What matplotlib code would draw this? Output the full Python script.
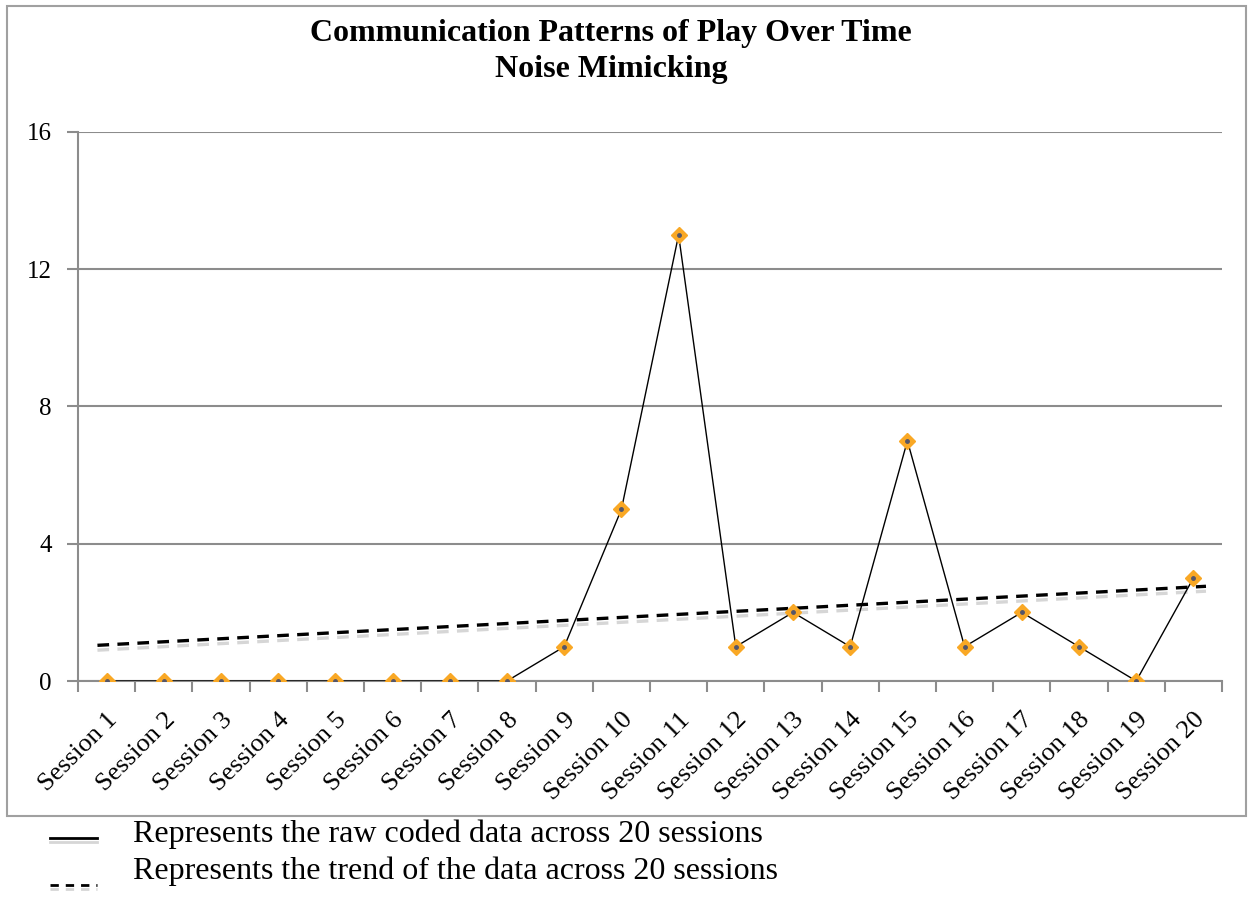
import matplotlib.pyplot as plt
import matplotlib.patheffects as pe
from matplotlib.lines import Line2D
from matplotlib.patches import Rectangle

sessions = ['Session %d' % i for i in range(1, 21)]
counts = [0, 0, 0, 0, 0, 0, 0, 0, 1, 5, 13, 1, 2, 1, 7, 1, 2, 1, 0, 3]
# trend line (start / end)
trend_x = [-0.16, 19.22]
trend_y = [1.04, 2.76]
y_ticks = [0, 4, 8, 12, 16]

plt.rcParams['font.family'] = ['Liberation Serif', 'DejaVu Serif']

fig = plt.figure(figsize=(12.48, 8.97), dpi=100)
W, H = 1248, 897
ax = fig.add_axes([78 / W, 1 - 681 / H, (1222 - 78) / W, (681 - 132) / H])

grid_c = '#8c8c8c'
x = list(range(len(sessions)))

shadow = [pe.SimpleLineShadow(offset=(0, -3.5), shadow_color='#8a8a8a', alpha=0.35), pe.Normal()]
ax.plot(trend_x, trend_y, color='black', lw=2.4, ls=(0, (3.5, 2.5)), zorder=3, path_effects=shadow)
ax.plot(x, counts, color='black', lw=1, zorder=4)
ax.plot(x, counts, ls='none', marker='D', ms=8, mfc='#F9A825', mec='#F9A825', zorder=5)
ax.plot(x, counts, ls='none', marker='o', ms=2.5, mfc='#55566a', mec='#55566a', zorder=6)

ax.set_xlim(-0.5, len(sessions) - 0.5)
ax.set_ylim(0, 16)
ax.set_yticks(y_ticks)
ax.set_yticklabels([str(v) for v in y_ticks], fontsize=18)
ax.yaxis.grid(True, color=grid_c, lw=1.5)
ax.set_axisbelow(True)

ax.set_xticks([i - 0.5 for i in range(len(sessions) + 1)])
ax.set_xticklabels([])
ax.set_xticks(x, minor=True)
ax.set_xticklabels(sessions, minor=True, rotation=45, ha='right', va='top',
                   rotation_mode='anchor', fontsize=19)
ax.tick_params(axis='x', which='minor', length=0, pad=20)
ax.tick_params(axis='x', which='major', length=8, width=1.5, color=grid_c, direction='out')
ax.tick_params(axis='y', length=8, width=1.5, color=grid_c, direction='out', pad=11)

for s in ['top', 'right']:
    ax.spines[s].set_visible(False)
for s in ['left', 'bottom']:
    ax.spines[s].set_color(grid_c)
    ax.spines[s].set_linewidth(1.5)

fig.add_artist(Rectangle((7 / W, 1 - 816 / H), (1246 - 7) / W, (816 - 6) / H,
                         transform=fig.transFigure, fill=False, ec='#a0a0a0', lw=1.5))

fig.text(611 / W, 1 - 33 / H, 'Communication Patterns of Play Over Time',
         ha='center', va='center', fontsize=23, fontweight='bold')
fig.text(611 / W, 1 - 70 / H, 'Noise Mimicking',
         ha='center', va='center', fontsize=23, fontweight='bold')

# legend below the chart frame
leg_shadow = [pe.SimpleLineShadow(offset=(0, -3), shadow_color='#999999', alpha=0.4), pe.Normal()]
fig.add_artist(Line2D([50 / W, 97 / W], [1 - 838 / H, 1 - 838 / H], transform=fig.transFigure,
                      color='black', lw=2, path_effects=leg_shadow))
fig.add_artist(Line2D([50 / W, 97 / W], [1 - 885 / H, 1 - 885 / H], transform=fig.transFigure,
                      color='black', lw=2, ls=(0, (3, 2.5)), path_effects=leg_shadow))
fig.text(133 / W, 1 - 834 / H, 'Represents the raw coded data across 20 sessions',
         ha='left', va='center', fontsize=23)
fig.text(133 / W, 1 - 871 / H, 'Represents the trend of the data across 20 sessions',
         ha='left', va='center', fontsize=23)

fig.savefig('out.png', dpi=100)
